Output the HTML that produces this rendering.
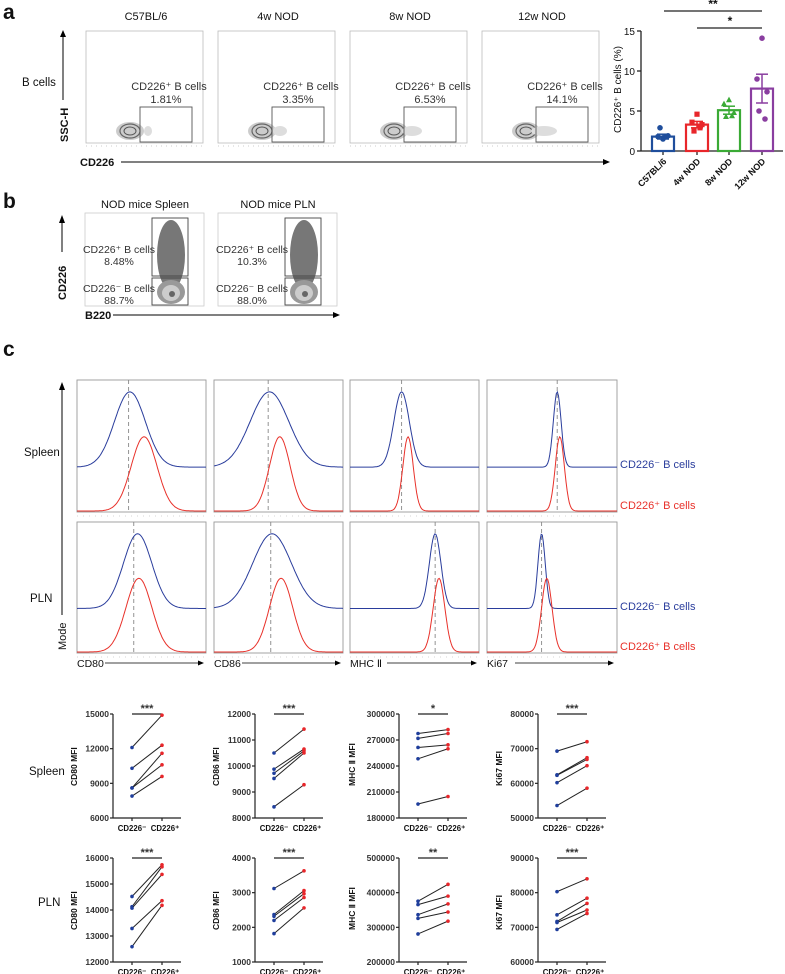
<!DOCTYPE html>
<html><head><meta charset="utf-8"><style>
html,body{margin:0;padding:0;background:#fff}
svg{display:block;font-family:"Liberation Sans",Arial,sans-serif}
</style></head><body>
<svg id="fig" width="785" height="974" viewBox="0 0 785 974" xmlns="http://www.w3.org/2000/svg">
<g id="A"></g>
<g id="B"></g>
<g id="C"></g>
<g id="D"></g>
</svg>
<script>
// ---- bar chart data (panel a) ----
const barGroups = ["C57BL/6","4w NOD","8w NOD","12w NOD"];
const barMeans = [1.8, 3.3, 5.1, 7.8];
const barSEM = [0.3, 0.4, 0.5, 1.8];
const barPts = [[1.5,1.8,1.9,2.9,1.8],[4.6,3.6,3.3,2.5,2.9],[6.4,5.9,4.8,4.3,4.4],[14.1,9.0,7.4,5.0,4.0]];
const barColors = ["#1f4e9c","#e8262a","#3aaa35","#8a3ea0"];
const barTicks = [0,5,10,15];
const flowTitles = ["C57BL/6","4w NOD","8w NOD","12w NOD"];
const flowPct = ["1.81%","3.35%","6.53%","14.1%"];
// ---- paired MFI data (panel c bottom) ----
const pairNames = ["CD80 MFI","CD86 MFI","MHC \u2161 MFI","Ki67 MFI"];
const spleenNeg = [[12100,10300,8600,8600,7900],[10500,9880,9720,9520,8430],[277500,271900,261400,248300,196100],[69300,62450,62300,60200,53600]];
const spleenPos = [[14900,12300,11600,10600,9600],[11420,10650,10580,10500,9280],[282000,277500,264400,259900,204800],[72000,67400,66900,65100,58600]];
const plnNeg = [[14520,14130,14070,13290,12590],[3120,2370,2320,2200,1820],[375400,365600,336400,325700,280900],[80300,73600,71700,71400,69400]];
const plnPos = [[15740,15660,15370,14360,14180],[3630,3060,2970,2860,2560],[424000,390000,367600,344200,317900],[84000,78400,76900,75000,74000]];
const spleenTicks = [[6000,9000,12000,15000],[8000,9000,10000,11000,12000],[180000,210000,240000,270000,300000],[50000,60000,70000,80000]];
const plnTicks = [[12000,13000,14000,15000,16000],[1000,2000,3000,4000],[200000,300000,400000,500000],[60000,70000,80000,90000]];
const spleenSig = ["***","***","*","***"];
const plnSig = ["***","***","**","***"];

const NS="http://www.w3.org/2000/svg";
function el(p,tag,at,txt){const e=document.createElementNS(NS,tag);for(const k in at)e.setAttribute(k,at[k]);if(txt!==undefined)e.textContent=txt;p.appendChild(e);return e;}
function T(p,x,y,s,size,extra){const a=Object.assign({x:x,y:y,'font-size':size||11,fill:'#111'},extra||{});return el(p,'text',a,s);}

// ===== Panel A =====
const A=document.getElementById('A');
let t=T(A,3,19,'a',21,{'font-weight':'bold'});


T(A,22,86,'B cells',11.5);
t=T(A,0,0,'SSC-H',11,{'font-weight':'bold',transform:'translate(68,142) rotate(-90)'});


el(A,'line',{x1:63,y1:100,x2:63,y2:35,stroke:'#000','stroke-width':1});
el(A,'path',{d:'M60,37 L63,30 L66,37 Z',fill:'#000'});
T(A,80,166,'CD226',11,{'font-weight':'bold'});
el(A,'line',{x1:121,y1:162,x2:604,y2:162,stroke:'#000','stroke-width':1});
el(A,'path',{d:'M603,159 L610,162 L603,165 Z',fill:'#000'});
const fx=[86,218,350,482];
for(let i=0;i<4;i++){
  const g=el(A,'g',{});
  
  
  const x=fx[i];
  T(g,x+60,20,flowTitles[i],11,{'text-anchor':'middle'});
  el(g,'rect',{x:x,y:31,width:117,height:112,fill:'#fff',stroke:'#bbb','stroke-width':0.8});
  el(g,'ellipse',{cx:x+44,cy:131,rx:14,ry:9,fill:'#ccc'});
  el(g,'ellipse',{cx:x+44,cy:131,rx:10,ry:7,fill:'none',stroke:'#666','stroke-width':1.2});
  el(g,'ellipse',{cx:x+44,cy:131,rx:6,ry:4,fill:'none',stroke:'#555','stroke-width':1});
  el(g,'ellipse',{cx:x+62,cy:131,rx:4+i*3,ry:5,fill:'#ddd'});
  el(g,'rect',{x:x+54,y:107,width:52,height:35,fill:'none',stroke:'#555','stroke-width':0.9});
  T(g,x+83,90,'CD226\u207A B cells',11,{'text-anchor':'middle',fill:'#333'});
  T(g,x+80,103,flowPct[i],11,{'text-anchor':'middle',fill:'#333'});
  el(g,'line',{x1:x,y1:146,x2:x+117,y2:146,stroke:'#999','stroke-width':0.6,'stroke-dasharray':'1 4'});
}
const bc=el(A,'g',{});


const by0=151,by1=31,bx0=641;
const yB=v=>by0-(v-0)/(15)*(by0-by1);
const bCent=[663,697,729,762];
el(bc,'line',{x1:bx0,y1:by1,x2:bx0,y2:by0,stroke:'#222','stroke-width':1.3});
el(bc,'line',{x1:bx0,y1:by0,x2:783,y2:by0,stroke:'#222','stroke-width':1.3});
barTicks.forEach(v=>{el(bc,'line',{x1:bx0-4,y1:yB(v),x2:bx0,y2:yB(v),stroke:'#222','stroke-width':1.3});T(bc,bx0-6,yB(v)+4,String(v),10,{'text-anchor':'end'});});
t=T(bc,0,0,'CD226\u207A B cells (%)',10,{transform:'translate(621,133) rotate(-90)'});


barGroups.forEach((gname,i)=>{
  const c=bCent[i],col=barColors[i];
  el(bc,'line',{x1:c,y1:by0,x2:c,y2:by0+4,stroke:'#222','stroke-width':1.3});
  const r=el(bc,'rect',{x:c-11,y:yB(barMeans[i]),width:22,height:by0-yB(barMeans[i]),fill:'none',stroke:col,'stroke-width':2.2});
  
  
  const up=yB(barMeans[i]+barSEM[i]),dn=yB(barMeans[i]-barSEM[i]);
  el(bc,'line',{x1:c,y1:up,x2:c,y2:dn,stroke:col,'stroke-width':1.5});
  el(bc,'line',{x1:c-6,y1:up,x2:c+6,y2:up,stroke:col,'stroke-width':1.5});
  el(bc,'line',{x1:c-6,y1:dn,x2:c+6,y2:dn,stroke:col,'stroke-width':1.5});
  barPts[i].forEach((v,j)=>{
    const px=c+[0,-5,5,-3,3][j],py=yB(v);
    if(i==0||i==3) el(bc,'circle',{cx:px,cy:py,r:2.8,fill:col});
    else if(i==1) el(bc,'rect',{x:px-2.6,y:py-2.6,width:5.2,height:5.2,fill:col});
    else el(bc,'path',{d:`M${px},${py-3.2} L${px+3},${py+2.4} L${px-3},${py+2.4} Z`,fill:col});
  });
  T(bc,0,0,gname,9,{'font-weight':'bold','text-anchor':'end',transform:`translate(${c+4},${by0+11}) rotate(-45)`});
});
el(bc,'line',{x1:664,y1:11,x2:762,y2:11,stroke:'#222','stroke-width':1.2});
T(bc,713,8,'**',12,{'text-anchor':'middle','font-weight':'bold'});
el(bc,'line',{x1:697,y1:28,x2:762,y2:28,stroke:'#222','stroke-width':1.2});
T(bc,730,25,'*',12,{'text-anchor':'middle','font-weight':'bold'});

// ===== Panel B =====
const B=document.getElementById('B');
T(B,3,208,'b',21,{'font-weight':'bold'});
el(B,'line',{x1:62,y1:252,x2:62,y2:222,stroke:'#000','stroke-width':1});
el(B,'path',{d:'M59,223 L62,215 L65,223 Z',fill:'#000'});
T(B,0,0,'CD226',11,{'font-weight':'bold',transform:'translate(66,300) rotate(-90)'});
T(B,85,319,'B220',11,{'font-weight':'bold'});
el(B,'line',{x1:113,y1:315,x2:334,y2:315,stroke:'#000','stroke-width':1});
el(B,'path',{d:'M333,312 L340,315 L333,318 Z',fill:'#000'});
const bbx=[85,218],bTitles=['NOD mice Spleen','NOD mice PLN'],bP=['8.48%','10.3%'],bN=['88.7%','88.0%'];
for(let i=0;i<2;i++){
  const x=bbx[i],g=el(B,'g',{});
  
  
  T(g,x+60,208,bTitles[i],11,{'text-anchor':'middle'});
  el(g,'rect',{x:x,y:213,width:119,height:93,fill:'#fff',stroke:'#ccc','stroke-width':0.8});
  el(g,'ellipse',{cx:x+86,cy:255,rx:14,ry:35,fill:'#777'});
  el(g,'ellipse',{cx:x+86,cy:292,rx:14,ry:12,fill:'#999'});
  el(g,'ellipse',{cx:x+86,cy:293,rx:9,ry:8,fill:'#ccc'});
  el(g,'ellipse',{cx:x+87,cy:294,rx:3,ry:3,fill:'#666'});
  el(g,'rect',{x:x+67,y:218,width:36,height:58,fill:'none',stroke:'#444','stroke-width':0.9});
  el(g,'rect',{x:x+67,y:278,width:36,height:27,fill:'none',stroke:'#444','stroke-width':0.9});
  T(g,x+34,253,'CD226\u207A B cells',10.5,{'text-anchor':'middle',fill:'#333'});
  T(g,x+34,265,bP[i],10.5,{'text-anchor':'middle',fill:'#333'});
  T(g,x+34,292,'CD226\u207B B cells',10.5,{'text-anchor':'middle',fill:'#333'});
  T(g,x+34,304,bN[i],10.5,{'text-anchor':'middle',fill:'#333'});
}

// ===== Panel C histograms =====
const C=document.getElementById('C');
T(C,3,356,'c',21,{'font-weight':'bold'});
T(C,24,456,'Spleen',11.5);T(C,30,602,'PLN',11.5);
el(C,'line',{x1:62,y1:615,x2:62,y2:390,stroke:'#000','stroke-width':1});
el(C,'path',{d:'M59,390 L62,382 L65,390 Z',fill:'#000'});
T(C,0,0,'Mode',11,{transform:'translate(66,650) rotate(-90)'});
const hx=[77,214,350,487],hw=[129,129,129,130];
const rowY=[[380,512],[522,653]];
const markers=['CD80','CD86','MHC \u2161','Ki67'];
const hp=[[[0.41,0.12,0.52,0.10,0.40],[0.43,0.15,0.51,0.08,0.42],[0.40,0.06,0.45,0.04,0.40],[0.54,0.03,0.56,0.035,0.54]],
          [[0.47,0.11,0.48,0.10,0.44],[0.45,0.15,0.52,0.09,0.44],[0.66,0.045,0.69,0.045,0.66],[0.42,0.028,0.46,0.04,0.42]]];
function curve(x0,w,base,peak,c,s){let d='';for(let k=0;k<=120;k++){const f=k/120;const z=(f-c)/s;const v=Math.exp(-0.5*z*z);const y=base-(base-peak)*v;d+=(k?'L':'M')+(x0+f*w).toFixed(1)+','+y.toFixed(1);}return d;}
for(let r=0;r<2;r++)for(let i=0;i<4;i++){
  const x=hx[i],w=hw[i],y0=rowY[r][0],y1=rowY[r][1],h=y1-y0,p=hp[r][i];
  const g=el(C,'g',{});
  
  
  el(g,'rect',{x:x,y:y0,width:w,height:h,fill:'#fff',stroke:'#999','stroke-width':0.9});
  el(g,'line',{x1:x+p[4]*w,y1:y0,x2:x+p[4]*w,y2:y1,stroke:'#888','stroke-width':0.9,'stroke-dasharray':'4 3'});
  el(g,'path',{d:curve(x,w,y0+0.66*h,y0+0.09*h,p[0],p[1]),fill:'none',stroke:'#2a3d9c','stroke-width':1});
  el(g,'path',{d:curve(x,w,y1-1,y0+0.43*h,p[2],p[3]),fill:'none',stroke:'#e8312a','stroke-width':1});
  el(g,'line',{x1:x,y1:y1+4,x2:x+w,y2:y1+4,stroke:'#aaa','stroke-width':0.6,'stroke-dasharray':'1 5'});
}
[0,1].forEach(r=>{
  let a=T(C,620,rowY[r][0]+88,'CD226\u207B B cells',11,{fill:'#2a3d9c'});
  
  
  a=T(C,620,rowY[r][1]-3,'CD226\u207A B cells',11,{fill:'#e8312a'});
  
  
});
markers.forEach((m,i)=>{
  T(C,hx[i],667,m,10.5);
  el(C,'line',{x1:hx[i]+(i==2?37:28),y1:663,x2:hx[i]+122,y2:663,stroke:'#000','stroke-width':0.8});
  el(C,'path',{d:`M${hx[i]+121},660.5 L${hx[i]+127},663 L${hx[i]+121},665.5 Z`,fill:'#000'});
});

// ===== Paired charts =====
const D=document.getElementById('D');
T(D,29,775,'Spleen',11.5);T(D,38,906,'PLN',11.5);
const axX=[113,255,399,538];
const rows=[{neg:spleenNeg,pos:spleenPos,ticks:spleenTicks,sig:spleenSig,top:714,bot:818,name:'spleen'},
            {neg:plnNeg,pos:plnPos,ticks:plnTicks,sig:plnSig,top:858,bot:962,name:'pln'}];
rows.forEach(R=>{
  for(let i=0;i<4;i++){
    const g=el(D,'g',{});
    
    
    const tk=R.ticks[i],lo=tk[0],hi=tk[tk.length-1],ax=axX[i];
    const y=v=>R.bot-(v-lo)/(hi-lo)*(R.bot-R.top);
    const c1=ax+19,c2=ax+49;
    el(g,'line',{x1:ax,y1:R.top,x2:ax,y2:R.bot,stroke:'#222','stroke-width':1.2});
    el(g,'line',{x1:ax,y1:R.bot,x2:ax+68,y2:R.bot,stroke:'#222','stroke-width':1.2});
    tk.forEach(v=>{el(g,'line',{x1:ax-3,y1:y(v),x2:ax,y2:y(v),stroke:'#222','stroke-width':1.2});T(g,ax-4,y(v)+3,String(v),8.5,{'text-anchor':'end','font-weight':'bold',fill:'#333'});});
    [c1,c2].forEach(c=>el(g,'line',{x1:c,y1:R.bot,x2:c,y2:R.bot+3,stroke:'#222','stroke-width':1.2}));
    T(g,c1,R.bot+13,'CD226\u207B',7.8,{'text-anchor':'middle','font-weight':'bold'});
    T(g,c2+3,R.bot+13,'CD226\u207A',7.8,{'text-anchor':'middle','font-weight':'bold'});
    const lab=T(g,0,0,pairNames[i],8.5,{'font-weight':'bold',transform:`translate(${ax-(tk[0]>=100000?44:36)},${(R.top+R.bot)/2+20}) rotate(-90)`});
    
    
    el(g,'line',{x1:c1,y1:R.top,x2:c2,y2:R.top,stroke:'#222','stroke-width':1.3});
    T(g,(c1+c2)/2,R.top-2,R.sig[i],11,{'text-anchor':'middle','font-weight':'bold',fill:'#333'});
    R.neg[i].forEach((v,j)=>{
      el(g,'line',{x1:c1,y1:y(v),x2:c2,y2:y(R.pos[i][j]),stroke:'#222','stroke-width':1});
      el(g,'circle',{cx:c1,cy:y(v),r:1.8,fill:'#1f3e9c'});
      el(g,'circle',{cx:c2,cy:y(R.pos[i][j]),r:1.8,fill:'#e8262a'});
    });
  }
});
</script>
</body></html>
